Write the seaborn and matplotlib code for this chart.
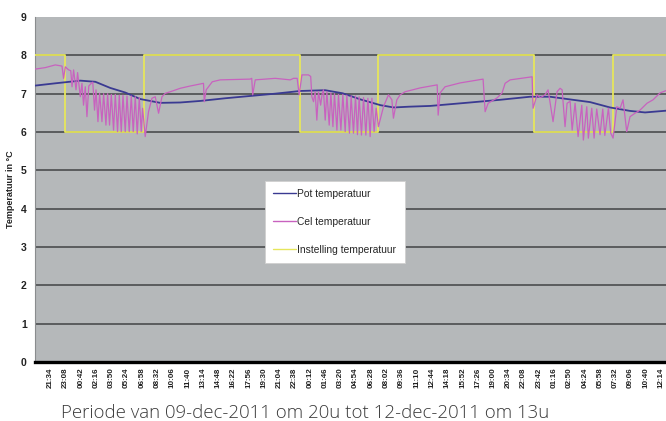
import matplotlib
matplotlib.use("Agg")
import matplotlib.pyplot as plt
from matplotlib.patches import Rectangle
import seaborn as sns
import pandas as pd

# ---- data (hours since 09-dec-2011 20:00) ----
pot_hours = [0.0, 2.08, 4.65, 6.19, 7.72, 9.26, 10.80, 12.85, 14.90, 16.95, 19.52,
             22.08, 24.65, 27.21, 29.78, 31.57, 33.40, 35.45, 36.81, 38.35, 40.55,
             44.65, 47.72, 50.80, 52.85, 54.91, 56.96, 59.01, 61.06, 62.60, 64.96]
pot_temp = [7.21, 7.27, 7.34, 7.31, 7.15, 7.03, 6.86, 6.76, 6.77, 6.81, 6.88,
            6.94, 7.00, 7.07, 7.09, 7.01, 6.85, 6.70, 6.64, 6.66, 6.68,
            6.77, 6.84, 6.92, 6.92, 6.85, 6.78, 6.64, 6.55, 6.51, 6.56]

cel_hours = [0.0, 1.06, 2.08, 2.77, 2.93, 3.11, 3.45, 3.67, 3.80, 3.96, 4.21, 4.37,
             4.65, 4.82, 4.98, 5.16, 5.33, 5.52, 5.77, 5.93, 6.11, 6.26, 6.46, 6.63,
             6.87, 7.04, 7.28, 7.45, 7.65, 7.83, 8.06, 8.24, 8.47, 8.65, 8.85, 9.03,
             9.26, 9.44, 9.67, 9.88, 10.08, 10.29, 10.49, 10.70, 10.90, 11.04, 11.31,
             11.65, 12.00, 12.34, 12.68, 13.03, 13.37, 13.88, 14.90, 15.93, 17.29,
             17.37, 17.57, 18.19, 19.01, 22.08, 22.24, 22.34, 22.60, 24.65, 26.19,
             26.53, 26.90, 27.11, 27.39, 28.06, 28.29, 28.41, 28.58, 28.75, 28.92,
             29.09, 29.31, 29.47, 29.60, 29.78, 29.95, 30.19, 30.36, 30.57, 30.73,
             30.98, 31.14, 31.39, 31.59, 31.83, 32.00, 32.27, 32.44, 32.68, 32.89,
             33.09, 33.26, 33.50, 33.71, 33.95, 34.16, 34.39, 34.57, 34.80, 35.01,
             35.24, 35.76, 36.27, 36.62, 36.78, 37.13, 37.47, 37.98, 39.52, 41.27,
             41.37, 41.57, 42.08, 43.62, 45.98, 46.19, 46.50, 47.42, 47.93, 48.24,
             48.76, 51.01, 51.11, 51.52, 51.83, 52.03, 52.34, 52.65, 53.16, 53.57,
             53.88, 54.09, 54.39, 54.60, 54.91, 55.12, 55.42, 55.73, 56.11, 56.27,
             56.62, 56.78, 57.13, 57.37, 57.64, 57.98, 58.26, 58.47, 58.84, 59.08,
             59.32, 59.70, 60.04, 60.34, 60.72, 61.06, 61.57, 62.08, 62.80, 63.42,
             64.14, 64.96]
cel_temp = [7.64, 7.68, 7.75, 7.72, 7.40, 7.70, 7.62, 7.60, 7.18, 7.62, 7.10, 7.55,
            6.92, 7.27, 6.70, 7.18, 6.40, 7.20, 7.27, 7.30, 6.57, 7.10, 6.27, 7.01,
            6.27, 7.00, 6.18, 7.00, 6.18, 6.98, 6.05, 6.98, 6.01, 6.96, 6.01, 6.96,
            6.01, 6.94, 6.01, 6.94, 6.01, 6.92, 5.95, 6.90, 6.01, 6.62, 5.88,
            6.53, 6.88, 6.92, 6.49, 6.92, 7.01, 7.05, 7.14, 7.20, 7.27,
            6.79, 7.10, 7.31, 7.36, 7.38, 7.40, 6.97, 7.36, 7.40, 7.36,
            7.40, 7.40, 6.97, 7.49, 7.49, 7.45, 6.92, 6.79, 7.05, 6.31,
            7.05, 6.70, 7.00, 7.10, 6.31, 7.05, 6.18, 7.02, 6.14, 7.00,
            6.05, 6.98, 6.05, 6.98, 6.01, 6.96, 5.97, 6.94, 5.97, 6.94,
            5.93, 6.92, 5.92, 6.90, 5.92, 6.88, 5.88, 6.88, 6.01, 6.62,
            6.14, 6.66, 6.97, 6.84, 6.36, 6.84, 6.97, 7.05, 7.15, 7.23,
            6.44, 7.02, 7.18, 7.28, 7.38, 6.53, 6.75, 6.89, 7.02, 7.27,
            7.36, 7.44, 6.62, 6.97, 6.90, 6.92, 6.97, 7.10, 6.27, 7.05,
            7.14, 7.10, 6.14, 6.75, 6.80, 6.05, 6.75, 5.88, 6.70, 5.79,
            6.66, 5.84, 6.62, 5.84, 6.60, 5.93, 6.60, 5.91, 6.62, 5.97,
            5.84, 6.66, 6.62, 6.84, 6.01, 6.40, 6.49, 6.57, 6.75, 6.84,
            7.02, 7.10]

set_hours = [0.0, 3.1, 11.2, 27.2, 35.2, 51.2, 59.3, 64.96]
set_temp = [8, 6, 8, 6, 8, 6, 8, 8]

tick_labels = ["21:34", "23:08", "00:42", "02:16", "03:50", "05:24", "06:58", "08:32",
               "10:06", "11:40", "13:14", "14:48", "16:22", "17:56", "19:30", "21:04",
               "22:38", "00:12", "01:46", "03:20", "04:54", "06:28", "08:02", "09:36",
               "11:10", "12:44", "14:18", "15:52", "17:26", "19:00", "20:34", "22:08",
               "23:42", "01:16", "02:50", "04:24", "05:58", "07:32", "09:06", "10:40",
               "12:14"]
tick_step_minutes = 94

series_names = ["Pot temperatuur", "Cel temperatuur", "Instelling temperatuur"]
y_label = "Temperatuur in °C"
caption = "Periode van 09-dec-2011 om 20u tot 12-dec-2011 om 13u"

# ---- figure ----
sns.set_style("white")
plt.rcParams["font.family"] = ["Liberation Sans", "DejaVu Sans"]

W, H = 666, 421
fig = plt.figure(figsize=(W / 100, H / 100), dpi=100)
fig.patch.set_facecolor("white")
ax_left, ax_right, ax_top, ax_bot = 35, 666, 17, 362
ax = fig.add_axes([ax_left / W, 1 - ax_bot / H, (ax_right - ax_left) / W, (ax_bot - ax_top) / H])
ax.set_facecolor("#b5b8ba")

pot_df = pd.DataFrame({"t": pot_hours, "v": pot_temp})
cel_df = pd.DataFrame({"t": cel_hours, "v": cel_temp})
set_df = pd.DataFrame({"t": set_hours, "v": set_temp})

for yv in range(1, 9):
    ax.axhline(yv, color="#5a5c5e", lw=1.4, zorder=1)

sns.lineplot(data=set_df, x="t", y="v", ax=ax, color="#e6e65c", lw=1.3,
             drawstyle="steps-post", estimator=None, sort=False, label=series_names[2], zorder=3)
sns.lineplot(data=pot_df, x="t", y="v", ax=ax, color="#3a3a92", lw=1.3,
             estimator=None, sort=False, label=series_names[0], zorder=4)
sns.lineplot(data=cel_df, x="t", y="v", ax=ax, color="#c862bf", lw=0.9,
             estimator=None, sort=False, label=series_names[1], zorder=5)

ax.set_xlim(0, 64.75)
ax.set_ylim(0, 9)
ax.set_yticks(range(0, 10))
ax.set_yticklabels([str(i) for i in range(0, 10)], fontsize=7.5, fontweight="bold", color="#222222")
ticks = [(k + 1) * tick_step_minutes / 60 for k in range(len(tick_labels))]
ax.set_xticks(ticks)
ax.set_xticklabels(tick_labels, rotation=90, fontsize=5.8, fontweight="bold", color="#222222")
ax.tick_params(axis="both", length=0)
ax.tick_params(axis="x", pad=4)
ax.tick_params(axis="y", pad=6)
ax.set_xlabel("")
ax.set_ylabel(y_label, fontsize=6.5, fontweight="bold", color="#222222")
ax.yaxis.set_label_coords(-0.032, 0.5)

for s in ["top", "right"]:
    ax.spines[s].set_visible(False)
ax.spines["left"].set_color("#8a8c8e")
ax.spines["left"].set_linewidth(0.8)
ax.spines["bottom"].set_color("black")
ax.spines["bottom"].set_linewidth(2.4)

# legend
h, l = ax.get_legend_handles_labels()
order = [l.index(n) for n in series_names]
leg = ax.legend([h[i] for i in order], [l[i] for i in order],
                loc="upper left", bbox_to_anchor=((265 - ax_left) / (ax_right - ax_left),
                                                  (ax_bot - 180.7) / (ax_bot - ax_top)),
                borderaxespad=0, fontsize=7.4, labelspacing=1.75, handlelength=2.2,
                handletextpad=0.15, borderpad=0.8, fancybox=False, framealpha=1,
                edgecolor="#d0d0d0", facecolor="white")
leg.get_frame().set_linewidth(0.6)
for line in leg.get_lines():
    line.set_linewidth(1.0)

# white strip clipping the tick labels, with caption
fig.add_artist(Rectangle((0, 0), 1, (H - 392) / H, transform=fig.transFigure,
                         facecolor="white", edgecolor="none", zorder=10))
fig.text(61 / W, 1 - 418 / H, caption, fontsize=13.4, family=["Open Sans", "DejaVu Sans"],
         fontweight="light", color="#3a3a3a", ha="left", va="baseline", zorder=11)

fig.savefig("out.png", dpi=100)
